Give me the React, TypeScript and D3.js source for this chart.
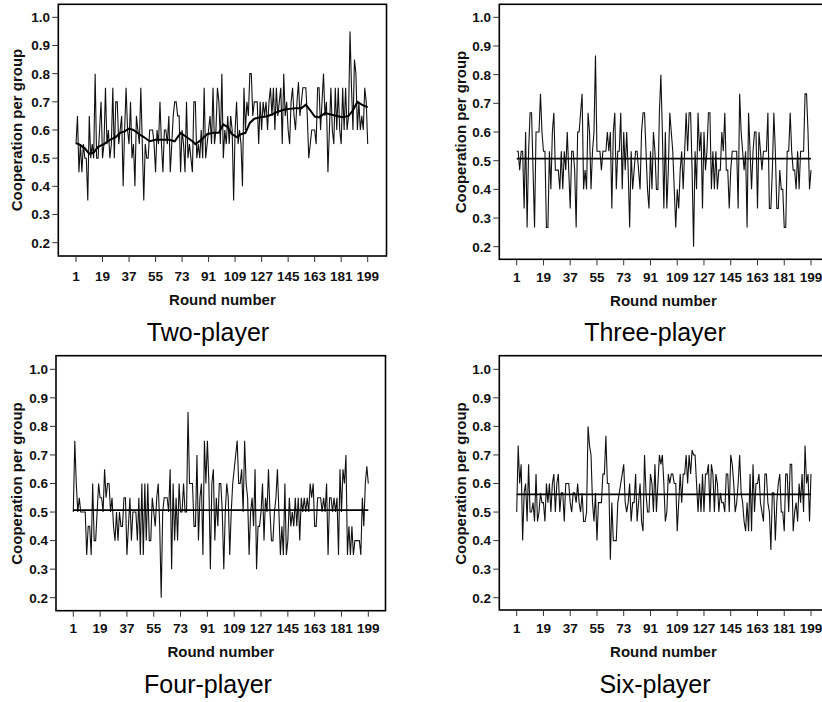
import React from 'react';
import * as d3 from 'd3';

const xTickRounds = [1, 19, 37, 55, 73, 91, 109, 127, 145, 163, 181, 199];
const yTickValues = [0.2, 0.3, 0.4, 0.5, 0.6, 0.7, 0.8, 0.9, 1.0];
const panelTitles = ['Two-player', 'Three-player', 'Four-player', 'Six-player'];
const xAxisTitle = 'Round number';
const yAxisTitle = 'Cooperation per group';

const twoPlayer = [
  .55, .65, .45, .55, .45, .55, .5, .5, .35, .65,
  .5, .55, .5, .8, .5, .5, .6, .7, .5, .55,
  .75, .55, .6, .5, .55, .75, .5, .7, .7, .55,
  .6, .65, .4, .6, .75, .6, .55, .7, .5, .55,
  .4, .65, .6, .55, .75, .55, .35, .55, .5, .5,
  .6, .6, .6, .55, .45, .6, .55, .7, .55, .45,
  .6, .6, .55, .65, .45, .55, .65, .7, .7, .65,
  .65, .45, .6, .55, .45, .7, .5, .55, .5, .45,
  .7, .7, .5, .55, .5, .6, .5, .75, .5, .55,
  .6, .65, .55, .75, .55, .6, .75, .7, .55, .8,
  .5, .6, .55, .65, .55, .65, .6, .35, .6, .7,
  .55, .6, .55, .4, .75, .6, .7, .65, .8, .8,
  .65, .7, .7, .7, .55, .7, .6, .7, .65, .7,
  .6, .7, .75, .65, .75, .6, .75, .65, .7, .75,
  .55, .8, .65, .7, .6, .55, .7, .75, .65, .6,
  .7, .77, .65, .7, .75, .75, .75, .65, .5, .55,
  .6, .6, .6, .55, .75, .75, .6, .7, .8, .65,
  .7, .45, .6, .75, .6, .55, .75, .6, .75, .6,
  .55, .75, .6, .75, .6, .65, .95, .75, .6, .85,
  .8, .6, .7, .6, .65, .6, .75, .7, .55,
];

const twoPlayerTrendRounds = [
  1, 3, 7, 10, 13, 16, 20, 24, 28, 31,
  34, 37, 40, 44, 47, 51, 55, 60, 64, 68,
  72, 76, 80, 82, 86, 90, 94, 98, 101, 104,
  107, 110, 113, 116, 119, 122, 126, 130, 134, 138,
  142, 146, 150, 154, 157, 160, 163, 166, 170, 174,
  178, 182, 186, 189, 192, 195, 199,
];
const twoPlayerTrendValues = [
  0.553, 0.55, 0.535, 0.515, 0.52, 0.54, 0.55, 0.565, 0.575, 0.59,
  0.595, 0.605, 0.6, 0.585, 0.575, 0.56, 0.565, 0.565, 0.565, 0.56,
  0.59, 0.575, 0.56, 0.55, 0.565, 0.585, 0.59, 0.59, 0.62, 0.61,
  0.585, 0.575, 0.585, 0.59, 0.625, 0.64, 0.645, 0.648, 0.655, 0.665,
  0.672, 0.675, 0.677, 0.677, 0.69, 0.67, 0.648, 0.645, 0.66, 0.655,
  0.65, 0.645, 0.65, 0.67, 0.70, 0.69, 0.68,
];

const threePlayer = [
  .533, .533, .467, .533, .533, .333, .6, .267, .533, .667,
  .667, .467, .267, .6, .6, .6, .733, .6, .533, .533,
  .267, .267, .533, .4, .6, .667, .467, .467, .467, .4,
  .533, .4, .533, .467, .6, .467, .333, .533, .533, .467,
  .267, .6, .6, .667, .733, .4, .467, .4, .667, .6,
  .4, .533, .6, .867, .533, .533, .533, .467, .533, .533,
  .533, .6, .533, .6, .333, .6, .667, .4, .533, .533,
  .667, .4, .6, .467, .6, .467, .267, .533, .4, .467,
  .533, .533, .467, .4, .6, .667, .667, .533, .4, .333,
  .533, .4, .6, .533, .4, .4, .667, .8, .6, .333,
  .6, .333, .467, .667, .6, .533, .4, .267, .4, .333,
  .467, .533, .4, .533, .667, .533, .667, .667, .467, .2,
  .533, .4, .667, .533, .6, .333, .6, .467, .533, .667,
  .667, .4, .533, .4, .533, .4, .467, .467, .6, .533,
  .667, .467, .467, .333, .467, .533, .533, .533, .533, .333,
  .733, .6, .533, .467, .533, .267, .667, .533, .4, .533,
  .6, .6, .333, .6, .533, .467, .533, .533, .533, .667,
  .333, .333, .467, .667, .533, .333, .333, .467, .4, .4,
  .267, .267, .533, .533, .667, .533, .467, .467, .4, .533,
  .4, .533, .533, .533, .733, .733, .6, .4, .467,
];
const threePlayerMean = 0.507;

const fourPlayer = [
  .5, .75, .6, .5, .55, .5, .5, .5, .5, .35,
  .45, .45, .35, .6, .4, .4, .5, .6, .55, .55,
  .5, .65, .55, .6, .6, .5, .55, .45, .4, .5,
  .4, .5, .45, .45, .55, .55, .35, .45, .55, .4,
  .5, .5, .5, .4, .55, .35, .6, .35, .6, .4,
  .6, .4, .4, .55, .5, .45, .55, .6, .45, .2,
  .5, .55, .55, .55, .5, .65, .3, .6, .4, .55,
  .4, .6, .5, .5, .6, .5, .5, .85, .6, .6,
  .6, .45, .45, .7, .4, .55, .6, .35, .75, .6,
  .75, .6, .3, .6, .65, .4, .55, .45, .6, .6,
  .5, .3, .5, .6, .55, .35, .5, .6, .65, .7,
  .75, .6, .6, .65, .5, .75, .6, .55, .35, .5,
  .55, .45, .65, .3, .45, .45, .5, .6, .4, .55,
  .5, .65, .5, .4, .4, .5, .55, .65, .5, .35,
  .45, .35, .6, .35, .4, .55, .45, .5, .45, .55,
  .45, .55, .4, .55, .5, .55, .5, .55, .5, .6,
  .55, .6, .45, .45, .55, .55, .55, .5, .55, .5,
  .6, .35, .55, .55, .5, .55, .5, .55, .35, .65,
  .5, .65, .6, .7, .35, .45, .35, .45, .35, .4,
  .4, .4, .4, .35, .55, .45, .6, .66, .6,
];
const fourPlayerMean = 0.507;

const sixPlayer = [
  .5, .733, .6, .667, .4, .567, .6, .467, .667, .5,
  .5, .533, .467, .633, .467, .5, .567, .533, .533, .467,
  .6, .533, .6, .5, .6, .633, .5, .6, .633, .5,
  .567, .567, .467, .6, .6, .6, .533, .5, .567, .567,
  .533, .6, .533, .5, .567, .467, .467, .5, .8, .733,
  .7, .533, .467, .567, .4, .533, .533, .533, .633, .633,
  .767, .6, .6, .333, .533, .4, .4, .4, .533, .567,
  .6, .633, .667, .533, .5, .533, .6, .467, .533, .533,
  .633, .467, .533, .6, .467, .433, .7, .567, .5, .5,
  .633, .6, .5, .667, .5, .6, .7, .667, .7, .6,
  .467, .5, .633, .6, .633, .633, .6, .6, .433, .533,
  .633, .533, .633, .633, .7, .6, .7, .633, .717, .7,
  .7, .6, .5, .6, .5, .633, .5, .633, .633, .667,
  .5, .667, .633, .5, .633, .6, .5, .567, .533, .533,
  .5, .633, .633, .5, .7, .667, .6, .5, .533, .6,
  .7, .567, .533, .467, .433, .533, .433, .633, .433, .667,
  .5, .6, .6, .633, .533, .5, .467, .633, .633, .533,
  .5, .367, .567, .567, .4, .533, .6, .633, .5, .5,
  .433, .633, .633, .5, .667, .667, .433, .5, .533, .467,
  .6, .533, .633, .5, .733, .6, .633, .467, .633,
];
const sixPlayerMean = 0.562;

type Layout = {
  frame: [number, number, number, number]; // left, right, top, bottom
  xRange: [number, number];
  yRange: [number, number];
  yTickLabelX: number;
  yTitleX: number;
  xTickBaseline: number;
  xTitleBaseline: number;
  titleX: number;
  titleBaseline: number;
};

const layouts: Layout[] = [
  { frame: [58.3, 386.5, 4.3, 256], xRange: [76, 367.7], yRange: [17.3, 242.7], yTickLabelX: 50, yTitleX: 22, xTickBaseline: 281, xTitleBaseline: 305, titleX: 208, titleBaseline: 340.5 },
  { frame: [499.3, 827.5, 4.3, 259.3], xRange: [516.7, 811], yRange: [17.3, 246.7], yTickLabelX: 491, yTitleX: 466, xTickBaseline: 282, xTitleBaseline: 305.5, titleX: 655, titleBaseline: 340.5 },
  { frame: [56, 385.5, 355.7, 610.7], xRange: [73.3, 368.3], yRange: [369.3, 597.7], yTickLabelX: 48, yTitleX: 22, xTickBaseline: 633, xTitleBaseline: 656.5, titleX: 208, titleBaseline: 692.5 },
  { frame: [499.3, 827.5, 355.7, 610], xRange: [516.7, 811], yRange: [369.3, 597.7], yTickLabelX: 491, yTitleX: 466, xTickBaseline: 633, xTitleBaseline: 656.5, titleX: 655, titleBaseline: 692.5 },
];

const seriesList = [twoPlayer, threePlayer, fourPlayer, sixPlayer];
const meanList: (number | null)[] = [null, threePlayerMean, fourPlayerMean, sixPlayerMean];

const FONT = "'Liberation Sans', Arial, Helvetica, sans-serif";

function Panel({ idx }: { idx: number }) {
  const L = layouts[idx];
  const data = seriesList[idx];
  const mean = meanList[idx];
  const x = d3.scaleLinear().domain([1, 199]).range(L.xRange);
  const y = d3.scaleLinear().domain([1.0, 0.2]).range(L.yRange);
  const [fl, fr, ft, fb] = L.frame;
  const line = d3
    .line<number>()
    .x((_, i) => x(i + 1))
    .y((d) => y(d));
  const trendLine = d3
    .line<number>()
    .x((_, i) => x(twoPlayerTrendRounds[i]))
    .y((d) => y(d));
  const yMid = (L.yRange[0] + L.yRange[1]) / 2;
  const xMid = (fl + fr) / 2;
  const fmt = d3.format('.1f');
  return (
    <g>
      <rect x={fl} y={ft} width={fr - fl} height={fb - ft} fill="none" stroke="#000" strokeWidth={1.6} />
      {yTickValues.map((v) => (
        <g key={'y' + v}>
          <line x1={fl - 6} x2={fl} y1={y(v)} y2={y(v)} stroke="#333" strokeWidth={1} />
          <text x={L.yTickLabelX} y={y(v)} dy="0.36em" textAnchor="end" fontFamily={FONT} fontWeight="bold" fontSize={13.5} fill="#111">
            {fmt(v)}
          </text>
        </g>
      ))}
      {xTickRounds.map((r) => (
        <g key={'x' + r}>
          <line x1={x(r)} x2={x(r)} y1={fb} y2={fb + 6} stroke="#333" strokeWidth={1} />
          <text x={x(r)} y={L.xTickBaseline} textAnchor="middle" fontFamily={FONT} fontWeight="bold" fontSize={13.5} fill="#111">
            {r}
          </text>
        </g>
      ))}
      <path d={line(data) || ''} fill="none" stroke="#111" strokeWidth={1.1} strokeLinejoin="miter" />
      {idx === 0 && (
        <path d={trendLine(twoPlayerTrendValues) || ''} fill="none" stroke="#000" strokeWidth={2} />
      )}
      {mean !== null && (
        <line x1={x(1)} x2={x(199)} y1={y(mean)} y2={y(mean)} stroke="#000" strokeWidth={1.8} />
      )}
      <text x={xMid} y={L.xTitleBaseline} textAnchor="middle" fontFamily={FONT} fontWeight="bold" fontSize={15} fill="#111">
        {xAxisTitle}
      </text>
      <text
        transform={`translate(${L.yTitleX},${yMid}) rotate(-90)`}
        textAnchor="middle"
        fontFamily={FONT}
        fontWeight="bold"
        fontSize={15}
        fill="#111"
      >
        {yAxisTitle}
      </text>
      <text x={L.titleX} y={L.titleBaseline} textAnchor="middle" fontFamily={FONT} fontSize={25} fill="#000">
        {panelTitles[idx]}
      </text>
    </g>
  );
}

export default function App() {
  return (
    <svg
      width={822}
      height={702}
      viewBox="0 0 822 702"
      style={{ position: 'absolute', left: 0, top: 0, background: '#fff', display: 'block' }}
    >
      <rect x={0} y={0} width={822} height={702} fill="#fff" />
      {[0, 1, 2, 3].map((i) => (
        <Panel key={i} idx={i} />
      ))}
    </svg>
  );
}
